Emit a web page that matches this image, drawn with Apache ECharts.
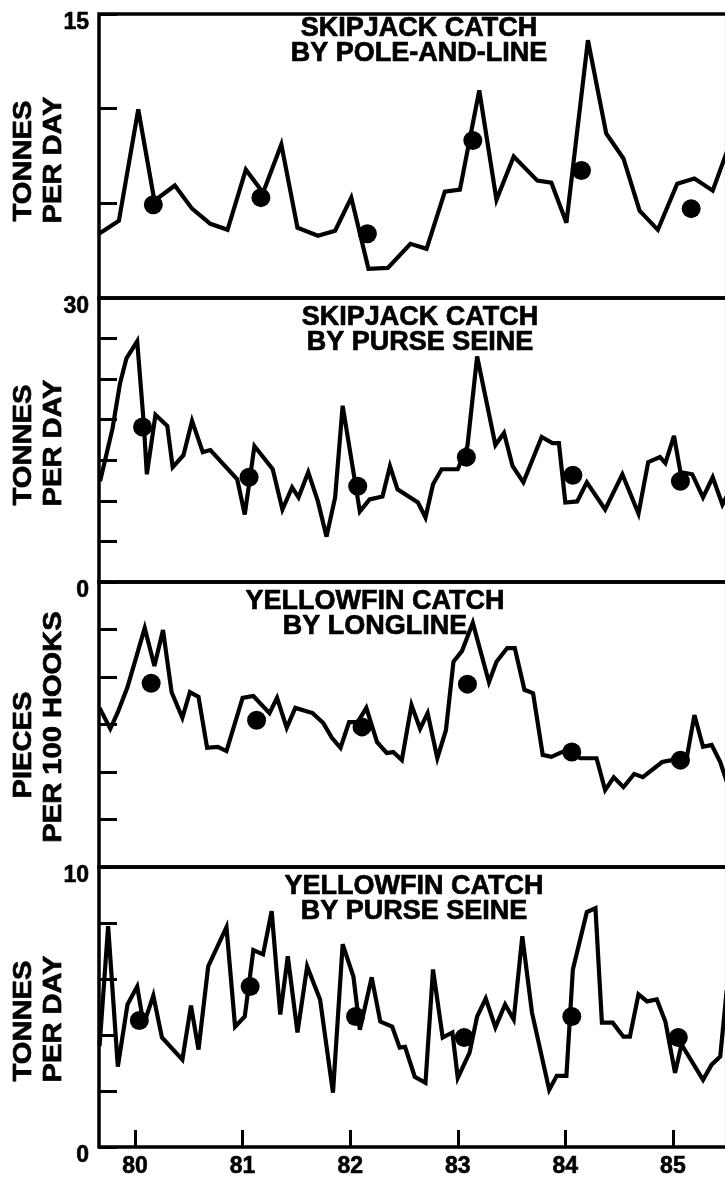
<!DOCTYPE html>
<html>
<head>
<meta charset="utf-8">
<script src="https://cdn.jsdelivr.net/npm/echarts@6/dist/echarts.min.js"></script>
<style>
html,body{margin:0;padding:0;background:#fff;}
#chart{width:725px;height:1177px;}
</style>
</head>
<body>
<div id="chart"></div>
<script>
// ---------- DATA ----------
const yearTicks = [80, 81, 82, 83, 84, 85];

// Panel 1: Skipjack catch by pole-and-line (tonnes per day)
const p1Years = [79.665, 79.85, 80.03, 80.18, 80.37, 80.53, 80.70, 80.86, 81.03, 81.19, 81.36, 81.51, 81.70, 81.86, 82.01, 82.17, 82.35, 82.56, 82.71, 82.88, 83.02, 83.20, 83.36, 83.52, 83.74, 83.87, 84.01, 84.21, 84.38, 84.54, 84.69, 84.86, 85.04, 85.20, 85.37, 85.50];
const p1Values = [3.39, 4.08, 9.96, 5.14, 5.94, 4.72, 3.92, 3.60, 6.78, 5.56, 8.11, 3.71, 3.29, 3.55, 5.30, 1.54, 1.59, 2.86, 2.60, 5.62, 5.72, 10.97, 5.19, 7.47, 6.20, 6.09, 3.97, 13.62, 8.69, 7.37, 4.61, 3.60, 6.04, 6.31, 5.67, 7.7];
const p1AvgYears = [80.17, 81.17, 82.16, 83.14, 84.15, 85.17];
const p1AvgValues = [4.93, 5.30, 3.39, 8.32, 6.73, 4.72];

// Panel 2: Skipjack catch by purse seine (tonnes per day)
const p2Years = [79.675, 79.79, 79.86, 79.92, 80.02, 80.08, 80.11, 80.19, 80.30, 80.35, 80.45, 80.53, 80.63, 80.70, 80.95, 81.02, 81.11, 81.28, 81.37, 81.46, 81.52, 81.61, 81.70, 81.78, 81.86, 81.93, 82.09, 82.18, 82.30, 82.37, 82.44, 82.63, 82.70, 82.77, 82.85, 83.00, 83.09, 83.18, 83.35, 83.43, 83.51, 83.61, 83.78, 83.88, 83.94, 84.00, 84.11, 84.20, 84.37, 84.53, 84.68, 84.77, 84.88, 84.93, 85.01, 85.07, 85.18, 85.28, 85.37, 85.46, 85.50];
const p2Values = [10.64, 16.17, 20.96, 23.62, 25.43, 16.91, 11.38, 17.66, 16.49, 12.13, 13.40, 17.02, 13.72, 13.94, 10.85, 7.13, 14.36, 11.91, 7.66, 10.00, 8.94, 11.60, 8.51, 4.79, 8.94, 18.62, 7.45, 8.72, 9.04, 12.23, 9.79, 8.40, 6.81, 10.32, 11.91, 11.91, 14.36, 23.83, 14.47, 15.74, 12.23, 10.53, 15.32, 14.68, 14.68, 8.40, 8.51, 10.53, 7.66, 11.38, 7.23, 12.66, 13.19, 12.55, 15.43, 11.60, 11.38, 8.94, 11.06, 8.19, 9.04];
const p2AvgYears = [80.07, 81.06, 82.07, 83.08, 84.07, 85.07];
const p2AvgValues = [16.38, 11.06, 10.11, 13.19, 11.28, 10.64];

// Panel 3: Yellowfin catch by longline (pieces per 100 hooks)
const p3Years = [79.67, 79.77, 79.84, 79.93, 80.09, 80.18, 80.26, 80.34, 80.44, 80.51, 80.59, 80.67, 80.77, 80.85, 81.00, 81.10, 81.25, 81.32, 81.41, 81.49, 81.65, 81.75, 81.83, 81.91, 81.99, 82.07, 82.15, 82.25, 82.34, 82.40, 82.48, 82.57, 82.65, 82.72, 82.81, 82.89, 82.96, 83.04, 83.14, 83.29, 83.36, 83.46, 83.53, 83.62, 83.70, 83.79, 83.87, 84.01, 84.14, 84.29, 84.37, 84.45, 84.54, 84.64, 84.72, 84.90, 84.99, 85.13, 85.20, 85.28, 85.36, 85.44, 85.50];
const p3Values = [3.35, 2.91, 3.26, 3.79, 5.03, 4.23, 4.99, 3.68, 3.14, 3.68, 3.58, 2.51, 2.53, 2.44, 3.56, 3.60, 3.24, 3.56, 2.93, 3.35, 3.24, 3.03, 2.72, 2.51, 3.05, 3.05, 3.35, 2.63, 2.40, 2.42, 2.25, 3.41, 2.91, 3.24, 2.29, 2.88, 4.32, 4.55, 5.14, 3.89, 4.32, 4.61, 4.61, 3.73, 3.66, 2.36, 2.32, 2.46, 2.29, 2.29, 1.62, 1.89, 1.68, 1.96, 1.89, 2.21, 2.25, 2.32, 3.20, 2.53, 2.57, 2.21, 1.80];
const p3AvgYears = [80.15, 81.13, 82.11, 83.09, 84.06, 85.07];
const p3AvgValues = [3.87, 3.09, 2.95, 3.85, 2.42, 2.25];

// Panel 4: Yellowfin catch by purse seine (tonnes per day)
const p4Years = [79.67, 79.75, 79.84, 79.93, 80.02, 80.08, 80.17, 80.25, 80.44, 80.52, 80.59, 80.68, 80.85, 80.93, 81.02, 81.10, 81.19, 81.27, 81.35, 81.42, 81.51, 81.60, 81.72, 81.84, 81.93, 82.03, 82.09, 82.20, 82.28, 82.39, 82.46, 82.51, 82.60, 82.70, 82.77, 82.86, 82.95, 83.00, 83.11, 83.18, 83.26, 83.35, 83.44, 83.52, 83.60, 83.69, 83.85, 83.92, 84.01, 84.07, 84.20, 84.28, 84.34, 84.44, 84.54, 84.60, 84.68, 84.76, 84.85, 84.93, 85.02, 85.08, 85.28, 85.36, 85.44, 85.50];
const p4Values = [3.6, 7.89, 2.87, 5.09, 5.73, 4.37, 5.41, 3.91, 3.12, 5.05, 3.48, 6.45, 7.85, 4.30, 4.66, 7.03, 6.88, 8.42, 4.73, 6.81, 4.09, 6.45, 5.27, 1.94, 7.24, 6.09, 4.19, 6.06, 4.48, 4.30, 3.55, 3.58, 2.51, 2.29, 6.34, 3.91, 4.09, 2.47, 3.37, 4.66, 5.30, 4.27, 5.09, 4.55, 7.53, 4.80, 2.04, 2.54, 2.54, 6.34, 8.39, 8.53, 4.44, 4.44, 3.94, 3.94, 5.45, 5.20, 5.27, 4.48, 2.65, 3.66, 2.40, 2.94, 3.23, 5.6];
const p4AvgYears = [80.04, 81.07, 82.05, 83.06, 84.06, 85.05];
const p4AvgValues = [4.52, 5.73, 4.66, 3.91, 4.66, 3.91];

const panelTitles = ['SKIPJACK CATCH\nBY POLE-AND-LINE', 'SKIPJACK CATCH\nBY PURSE SEINE', 'YELLOWFIN CATCH\nBY LONGLINE', 'YELLOWFIN CATCH\nBY PURSE SEINE'];
const yTitleLines = [['TONNES', 'PER DAY'], ['TONNES', 'PER DAY'], ['PIECES', 'PER 100 HOOKS'], ['TONNES', 'PER DAY']];
const yMax = [15, 30, 6, 10];
const yInterval = [5, 30 / 7, 1, 2];
const yLabelValues = [[15], [0, 30], [], [0, 10]];

// ---------- LAYOUT / STYLE ----------
const FONT = 'Arial, "Liberation Sans", Helvetica, sans-serif';
const gridTops = [14, 298, 582, 867];
const gridHeights = [284, 284, 285, 280];
const GRID_LEFT = 99, GRID_WIDTH = 627.7;
const X_MIN = 79.665, X_MAX = 85.5;
const titleX = [419, 420, 375, 414];
const titleY = [41, 330, 614, 899];
const yTitleY = [[161, 160], [445, 443], [745, 727], [1021, 1019]];

const zip = (xs, ys) => xs.map((x, i) => [x, ys[i]]);
const lines = [zip(p1Years, p1Values), zip(p2Years, p2Values), zip(p3Years, p3Values), zip(p4Years, p4Values)];
const avgs = [zip(p1AvgYears, p1AvgValues), zip(p2AvgYears, p2AvgValues), zip(p3AvgYears, p3AvgValues), zip(p4AvgYears, p4AvgValues)];

const grids = [], xAxes = [], yAxes = [], series = [], graphics = [];
for (let i = 0; i < 4; i++) {
  grids.push({
    left: GRID_LEFT, top: gridTops[i], width: GRID_WIDTH, height: gridHeights[i],
    show: true, borderColor: '#000', borderWidth: 3.5, backgroundColor: 'transparent',
    containLabel: false, outerBoundsMode: 'none'
  });
  const last = i === 3;
  xAxes.push({
    type: 'value', gridIndex: i, min: X_MIN, max: X_MAX,
    axisLine: { show: false },
    splitLine: { show: false },
    axisTick: last ? { show: true, inside: true, length: 17, customValues: yearTicks, lineStyle: { color: '#000', width: 3 } } : { show: false },
    axisLabel: last ? { show: true, customValues: yearTicks, color: '#000', fontFamily: FONT, fontWeight: 'bold', fontSize: 23, margin: 8, textBorderColor: '#000', textBorderWidth: 0.6 } : { show: false }
  });
  yAxes.push({
    type: 'value', gridIndex: i, min: 0, max: yMax[i], interval: yInterval[i],
    axisLine: { show: false },
    splitLine: { show: false },
    axisTick: { show: true, inside: true, length: 18, lineStyle: { color: '#000', width: 3 } },
    axisLabel: yLabelValues[i].length ? {
      show: true, customValues: yLabelValues[i], color: '#000', fontFamily: FONT, fontWeight: 'bold', fontSize: 23,
      margin: 10, verticalAlign: 'top', lineHeight: 17, textBorderColor: '#000', textBorderWidth: 0.6
    } : { show: false }
  });
  series.push({
    type: 'line', xAxisIndex: i, yAxisIndex: i, data: lines[i], symbol: 'none',
    lineStyle: { color: '#000', width: 4.2, join: 'miter', miterLimit: 4 }, z: 3
  });
  series.push({
    type: 'scatter', xAxisIndex: i, yAxisIndex: i, data: avgs[i], symbol: 'circle', symbolSize: 19,
    itemStyle: { color: '#000', opacity: 1 }, z: 4
  });
  graphics.push({
    type: 'text', x: titleX[i], y: titleY[i], z: 10,
    style: { text: panelTitles[i], fill: '#000', stroke: '#000', lineWidth: 0.7, font: 'bold 27px ' + FONT, align: 'center', verticalAlign: 'middle', lineHeight: 25 }
  });
  const lx = [24, 54];
  for (let k = 0; k < 2; k++) {
    graphics.push({
      type: 'text', x: lx[k], y: yTitleY[i][k], rotation: Math.PI / 2, scaleX: 1.12, z: 10,
      style: { text: yTitleLines[i][k], fill: '#000', stroke: '#000', lineWidth: 0.7, font: 'bold 26px ' + FONT, align: 'center', verticalAlign: 'middle' }
    });
  }
}

const chart = echarts.init(document.getElementById('chart'), null, { renderer: 'canvas' });
chart.setOption({
  backgroundColor: '#fff',
  animation: false,
  grid: grids,
  xAxis: xAxes,
  yAxis: yAxes,
  series: series,
  graphic: graphics
});
</script>
</body>
</html>
